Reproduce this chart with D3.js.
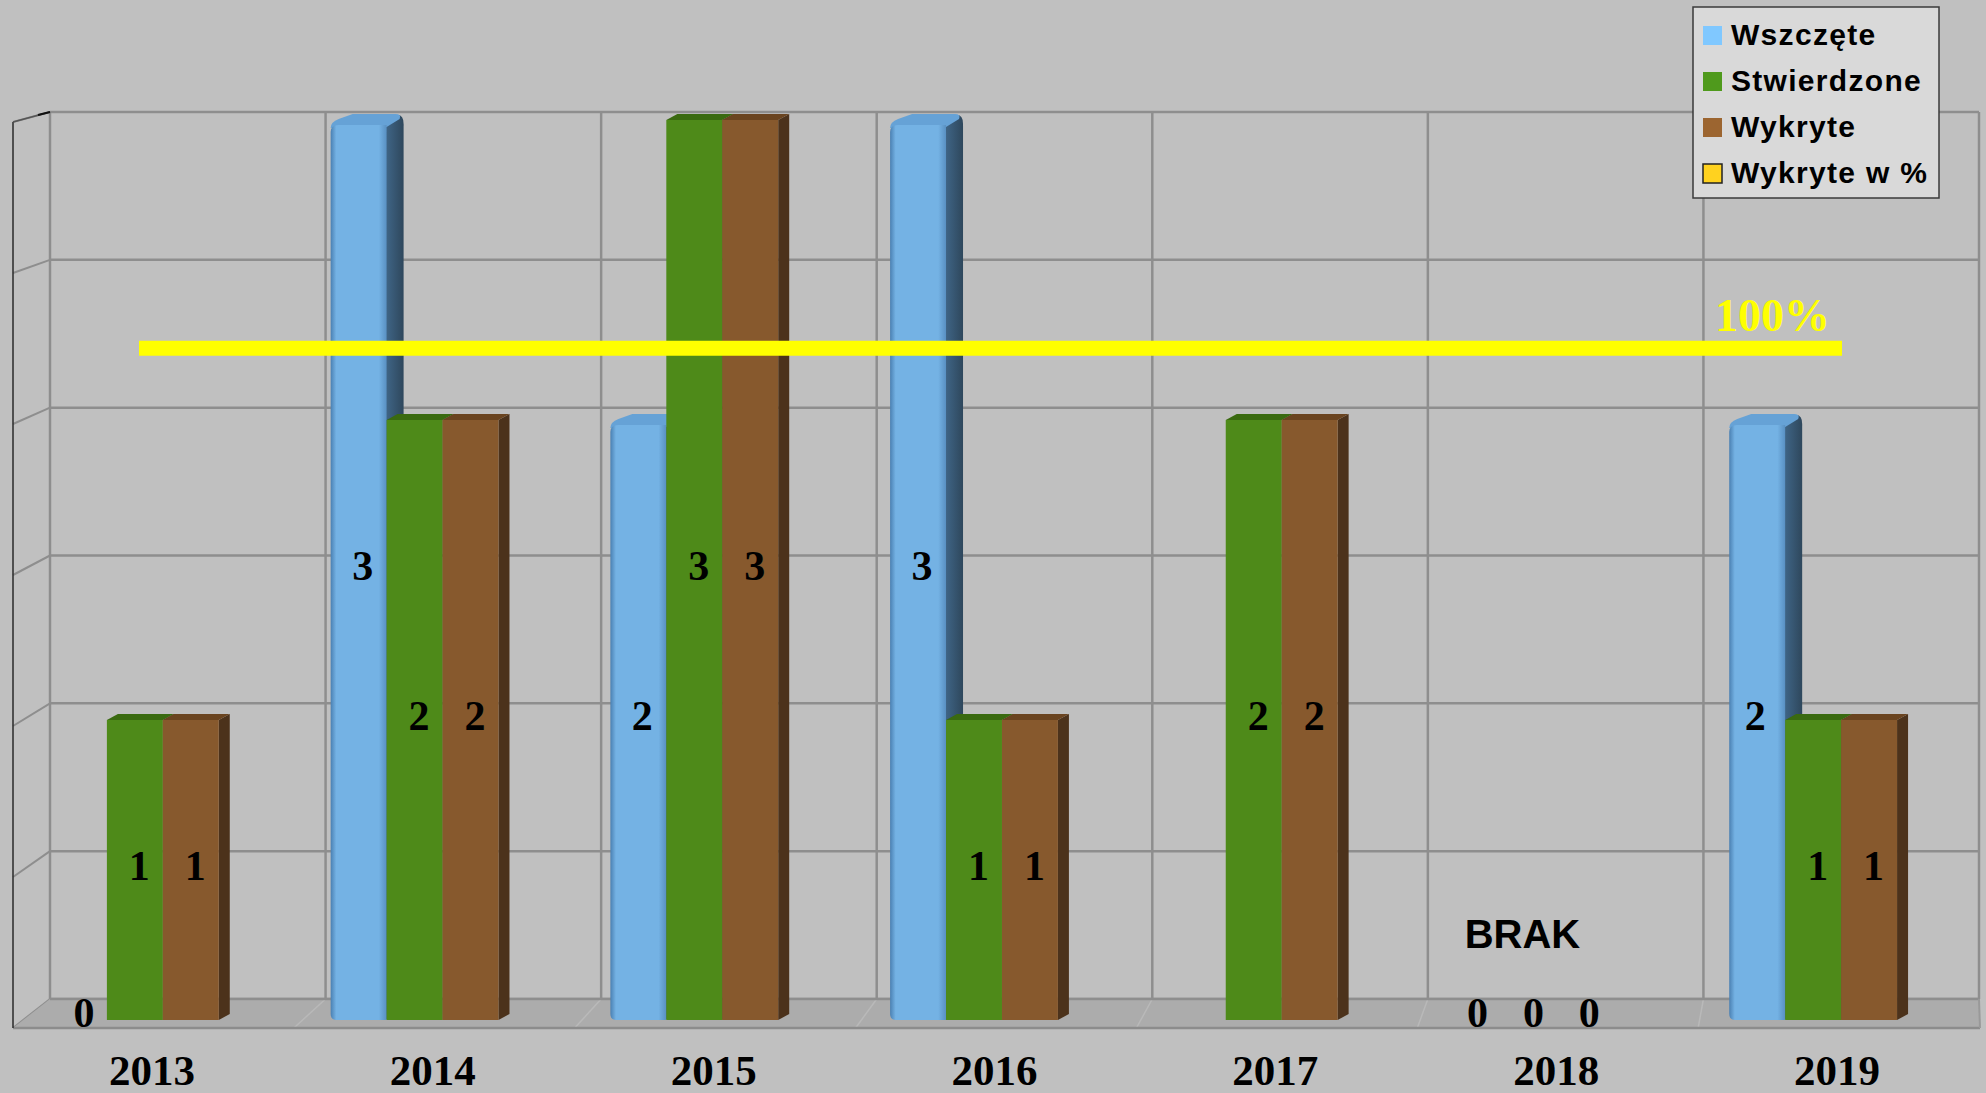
<!DOCTYPE html>
<html>
<head>
<meta charset="utf-8">
<script src="https://cdn.jsdelivr.net/npm/d3@7"></script>
<style>
  html, body { margin: 0; padding: 0; background: #c0c0c0; overflow: hidden; }
  svg { display: block; }
</style>
</head>
<body>
<svg id="chart" width="1986" height="1093"></svg>
<script>
// ---------------- DATA ----------------
const years = ["2013", "2014", "2015", "2016", "2017", "2018", "2019"];
const seriesNames = ["Wszczęte", "Stwierdzone", "Wykryte"];
const wszczete    = [0, 3, 2, 3, null, 0, 2];
const stwierdzone = [1, 2, 3, 1, 2, 0, 1];
const wykryte     = [1, 2, 3, 1, 2, 0, 1];
const wykryteProc = [100, 100, 100, 100, 100, 100, 100];
const gridTicks   = [0, 0.5, 1, 1.5, 2, 2.5, 3];
const legendNames = ["Wszczęte", "Stwierdzone", "Wykryte", "Wykryte w %"];
const brakYear = "2018";
const brakText = "BRAK";
const pctLabel = "100%";

// ---------------- STYLE ----------------
const colors = {
  bg: "#c0c0c0", grid: "#8e8e8e", floor: "#acacac",
  blueFront: "#74b2e4", blueEdge: "#4f88bb", blueTop: "#66a2d6", blueSide1: "#41688a", blueSide2: "#2e475c",
  greenFront: "#4e8a19", greenTop: "#3a6a10", greenSide: "#2f560c",
  brownFront: "#87592d", brownTop: "#6a4420", brownSide: "#4c321b",
  yellow: "#ffff00"
};
const legendSwatch = ["#80c8ff", "#4f9a1c", "#9c6530", "#ffd21f"];
const serif = "'Liberation Serif', 'Times New Roman', serif";
const sans = "'Liberation Sans', Arial, sans-serif";

const svg = d3.select("#chart");
svg.append("rect").attr("width", 1986).attr("height", 1093).attr("fill", colors.bg);

const defs = svg.append("defs");
const gBlue = defs.append("linearGradient").attr("id", "blueFront").attr("x1", "0").attr("x2", "1").attr("y1", "0").attr("y2", "0");
gBlue.append("stop").attr("offset", "0%").attr("stop-color", "#4a80b2");
gBlue.append("stop").attr("offset", "10%").attr("stop-color", colors.blueFront);
gBlue.append("stop").attr("offset", "86%").attr("stop-color", colors.blueFront);
gBlue.append("stop").attr("offset", "100%").attr("stop-color", "#5990c2");
const gSide = defs.append("linearGradient").attr("id", "blueSide").attr("x1", "0").attr("x2", "1").attr("y1", "0").attr("y2", "0");
gSide.append("stop").attr("offset", "0%").attr("stop-color", colors.blueSide1);
gSide.append("stop").attr("offset", "100%").attr("stop-color", colors.blueSide2);

// ---------------- SCALES ----------------
const xWall = d3.scaleBand().domain(years).range([50, 1979]).paddingInner(0).paddingOuter(0);
const yWall = d3.scaleLinear().domain([0, 3]).range([999, 112]);
const x0 = d3.scaleBand().domain(years).range([-5, 1953]).paddingInner(0.4).paddingOuter(0.2);
const x1 = d3.scaleBand().domain(seriesNames).range([0, x0.bandwidth()]);
const y = d3.scaleLinear().domain([0, 3]).range([1020, 120]);
const yPct = d3.scaleLinear().domain([0, 134]).range([1020, 120]);
const xLabel = d3.scalePoint().domain(years).range([152, 1837]);
const xLine = d3.scalePoint().domain(years).range([139, 1842]);

const frontLeft = 13, floorFront = 1028;
const wallLeft = xWall.range()[0], wallRight = xWall.range()[1];
const floorBack = yWall(0);
function frontX(bx) { return bx - (wallLeft - frontLeft) * (wallRight - bx) / (wallRight - wallLeft); }
function leftOff(t) { return 10 + 19 * (1 - t / 3); }

// ---------------- WALLS ----------------
const walls = svg.append("g");
walls.selectAll("line.h").data(gridTicks).join("line")
  .attr("x1", wallLeft).attr("x2", wallRight)
  .attr("y1", d => yWall(d)).attr("y2", d => yWall(d))
  .attr("stroke", colors.grid).attr("stroke-width", 2.5);
const vLines = years.map(yy => xWall(yy)).concat([wallRight]);
walls.selectAll("line.v").data(vLines).join("line")
  .attr("x1", d => d).attr("x2", d => d)
  .attr("y1", yWall(3)).attr("y2", floorBack)
  .attr("stroke", colors.grid).attr("stroke-width", 2.5);
walls.selectAll("line.l").data(gridTicks).join("line")
  .attr("x1", wallLeft).attr("x2", frontLeft)
  .attr("y1", d => yWall(d)).attr("y2", d => yWall(d) + leftOff(d))
  .attr("stroke", colors.grid).attr("stroke-width", 2);
walls.append("path")
  .attr("d", `M${wallLeft},${floorBack}L${wallRight},${floorBack}L${wallRight + 1},${floorFront}L${frontLeft},${floorFront}Z`)
  .attr("fill", colors.floor);
walls.selectAll("line.f").data(vLines.slice(1, -1)).join("line")
  .attr("x1", d => d).attr("y1", floorBack)
  .attr("x2", d => frontX(d)).attr("y2", floorFront)
  .attr("stroke", "#b9b9b9").attr("stroke-width", 1.5);
walls.append("line").attr("x1", wallLeft).attr("x2", wallRight).attr("y1", floorBack).attr("y2", floorBack)
  .attr("stroke", colors.grid).attr("stroke-width", 2.5);
walls.append("line").attr("x1", frontLeft).attr("x2", wallRight + 1).attr("y1", floorFront).attr("y2", floorFront)
  .attr("stroke", "#8c8c8c").attr("stroke-width", 2.5);
walls.append("line").attr("x1", wallRight).attr("x2", wallRight + 1).attr("y1", floorBack).attr("y2", floorFront)
  .attr("stroke", "#999").attr("stroke-width", 2);
walls.append("line").attr("x1", frontLeft).attr("x2", frontLeft)
  .attr("y1", yWall(3) + leftOff(3)).attr("y2", floorFront)
  .attr("stroke", "#2a2a2a").attr("stroke-width", 1.5);
walls.append("line").attr("x1", frontLeft).attr("x2", wallLeft)
  .attr("y1", yWall(3) + leftOff(3)).attr("y2", yWall(3))
  .attr("stroke", "#555").attr("stroke-width", 1.5);
walls.append("line").attr("x1", wallLeft - 12).attr("x2", wallLeft)
  .attr("y1", yWall(3) + 3).attr("y2", yWall(3))
  .attr("stroke", "#111").attr("stroke-width", 2);

// ---------------- BARS ----------------
const bars = svg.append("g");
const dx = 11, dy = 6;
const rows = years.map((yy, i) => ({ year: yy, vals: [wszczete[i], stwierdzone[i], wykryte[i]] }));
const labels = [];

rows.forEach((r, ri) => {
  r.vals.forEach((v, si) => {
    const xl = x0(r.year) + x1(seriesNames[si]);
    const w = x1.bandwidth();
    const xr = xl + w;
    const yB = y(0);
    if (v === null) return;
    if (v === 0) {
      labels.push({ x: xl + w / 2 + (ri === 0 ? 5 : 0), y: 1027, t: "0" });
      return;
    }
    const yT = y(v);
    const g = bars.append("g");
    if (si === 0) {
      const sw = 17;
      g.append("path")
        .attr("d", `M${xr - 2},${yT + 6}L${xr + sw - 6},${yT - 5}Q${xr + sw},${yT - 5} ${xr + sw},${yT + 4}L${xr + sw},${yB - 8}L${xr - 2},${yB}Z`)
        .attr("fill", "url(#blueSide)");
      g.append("path")
        .attr("d", `M${xl},${yT + 8}Q${xl},${yT + 2} ${xl + 8},${yT - 1}L${xl + 22},${yT - 6}L${xr + sw - 8},${yT - 6}Q${xr + sw - 2},${yT - 6} ${xr + sw - 4},${yT - 1}L${xr},${yT + 7}Z`)
        .attr("fill", colors.blueTop);
      g.append("path")
        .attr("d", `M${xl},${yT + 12}Q${xl},${yT + 5} ${xl + 8},${yT + 5}L${xr},${yT + 5}L${xr},${yB}L${xl + 6},${yB}Q${xl},${yB} ${xl},${yB - 6}Z`)
        .attr("fill", "url(#blueFront)");
      labels.push({ x: xl + w / 2 + (ri === 6 ? -2 : 4), y: (yT + yB) / 2 + 10, t: String(v) });
    } else {
      const front = si === 1 ? colors.greenFront : colors.brownFront;
      const top = si === 1 ? colors.greenTop : colors.brownTop;
      const side = si === 1 ? colors.greenSide : colors.brownSide;
      g.append("path").attr("d", `M${xr},${yT}L${xr + dx},${yT - dy}L${xr + dx},${yB - dy}L${xr},${yB}Z`).attr("fill", side);
      g.append("path").attr("d", `M${xl},${yT}L${xl + dx},${yT - dy}L${xr + dx},${yT - dy}L${xr},${yT}Z`).attr("fill", top);
      g.append("rect").attr("x", xl).attr("y", yT).attr("width", w).attr("height", yB - yT).attr("fill", front);
      labels.push({ x: xl + (w + dx) / 2 - 1, y: (yT + yB) / 2 + 10, t: String(v) });
    }
  });
});

// ---------------- PERCENT LINE ----------------
const line = d3.line().x((d, i) => xLine(years[i])).y(d => yPct(d));
svg.append("path").datum(wykryteProc).attr("d", line)
  .attr("fill", "none").attr("stroke", colors.yellow).attr("stroke-width", 15);
svg.append("text")
  .attr("x", xLine(years[years.length - 1]) - 12).attr("y", yPct(wykryteProc[wykryteProc.length - 1]) - 17)
  .attr("text-anchor", "end").attr("font-family", serif).attr("font-weight", "bold")
  .attr("font-size", 46).attr("fill", colors.yellow).text(pctLabel);

// ---------------- VALUE LABELS ----------------
svg.append("g").selectAll("text").data(labels).join("text")
  .attr("x", d => d.x).attr("y", d => d.y)
  .attr("text-anchor", "middle").attr("font-family", serif).attr("font-weight", "bold")
  .attr("font-size", 42).attr("fill", "#000").text(d => d.t);

svg.append("text")
  .attr("x", x0(brakYear) + x0.bandwidth() / 2 - 11).attr("y", 948)
  .attr("text-anchor", "middle").attr("font-family", sans).attr("font-weight", "bold")
  .attr("font-size", 40).attr("fill", "#000").text(brakText);

// ---------------- CATEGORY AXIS ----------------
svg.append("g").selectAll("text").data(years).join("text")
  .attr("x", d => xLabel(d)).attr("y", 1085)
  .attr("text-anchor", "middle").attr("font-family", serif).attr("font-weight", "bold")
  .attr("font-size", 43).attr("fill", "#000").text(d => d);

// ---------------- LEGEND ----------------
const leg = svg.append("g").attr("transform", "translate(1693,7)");
leg.append("rect").attr("x", 0).attr("y", 0).attr("width", 246).attr("height", 191)
  .attr("fill", "#d9d9d9").attr("stroke", "#3a3a3a").attr("stroke-width", 1.5);
const items = leg.selectAll("g.item").data(legendNames).join("g")
  .attr("transform", (d, i) => `translate(0,${38 + i * 46})`);
items.append("rect").attr("x", 10).attr("y", -19).attr("width", 19).attr("height", 19)
  .attr("fill", (d, i) => legendSwatch[i])
  .attr("stroke", (d, i) => i === 3 ? "#222" : "none").attr("stroke-width", 1.5);
items.append("text").attr("x", 38).attr("y", 0)
  .attr("font-family", sans).attr("font-weight", "bold").attr("font-size", 30)
  .attr("letter-spacing", 1.3).attr("fill", "#000").text(d => d);
</script>
</body>
</html>
